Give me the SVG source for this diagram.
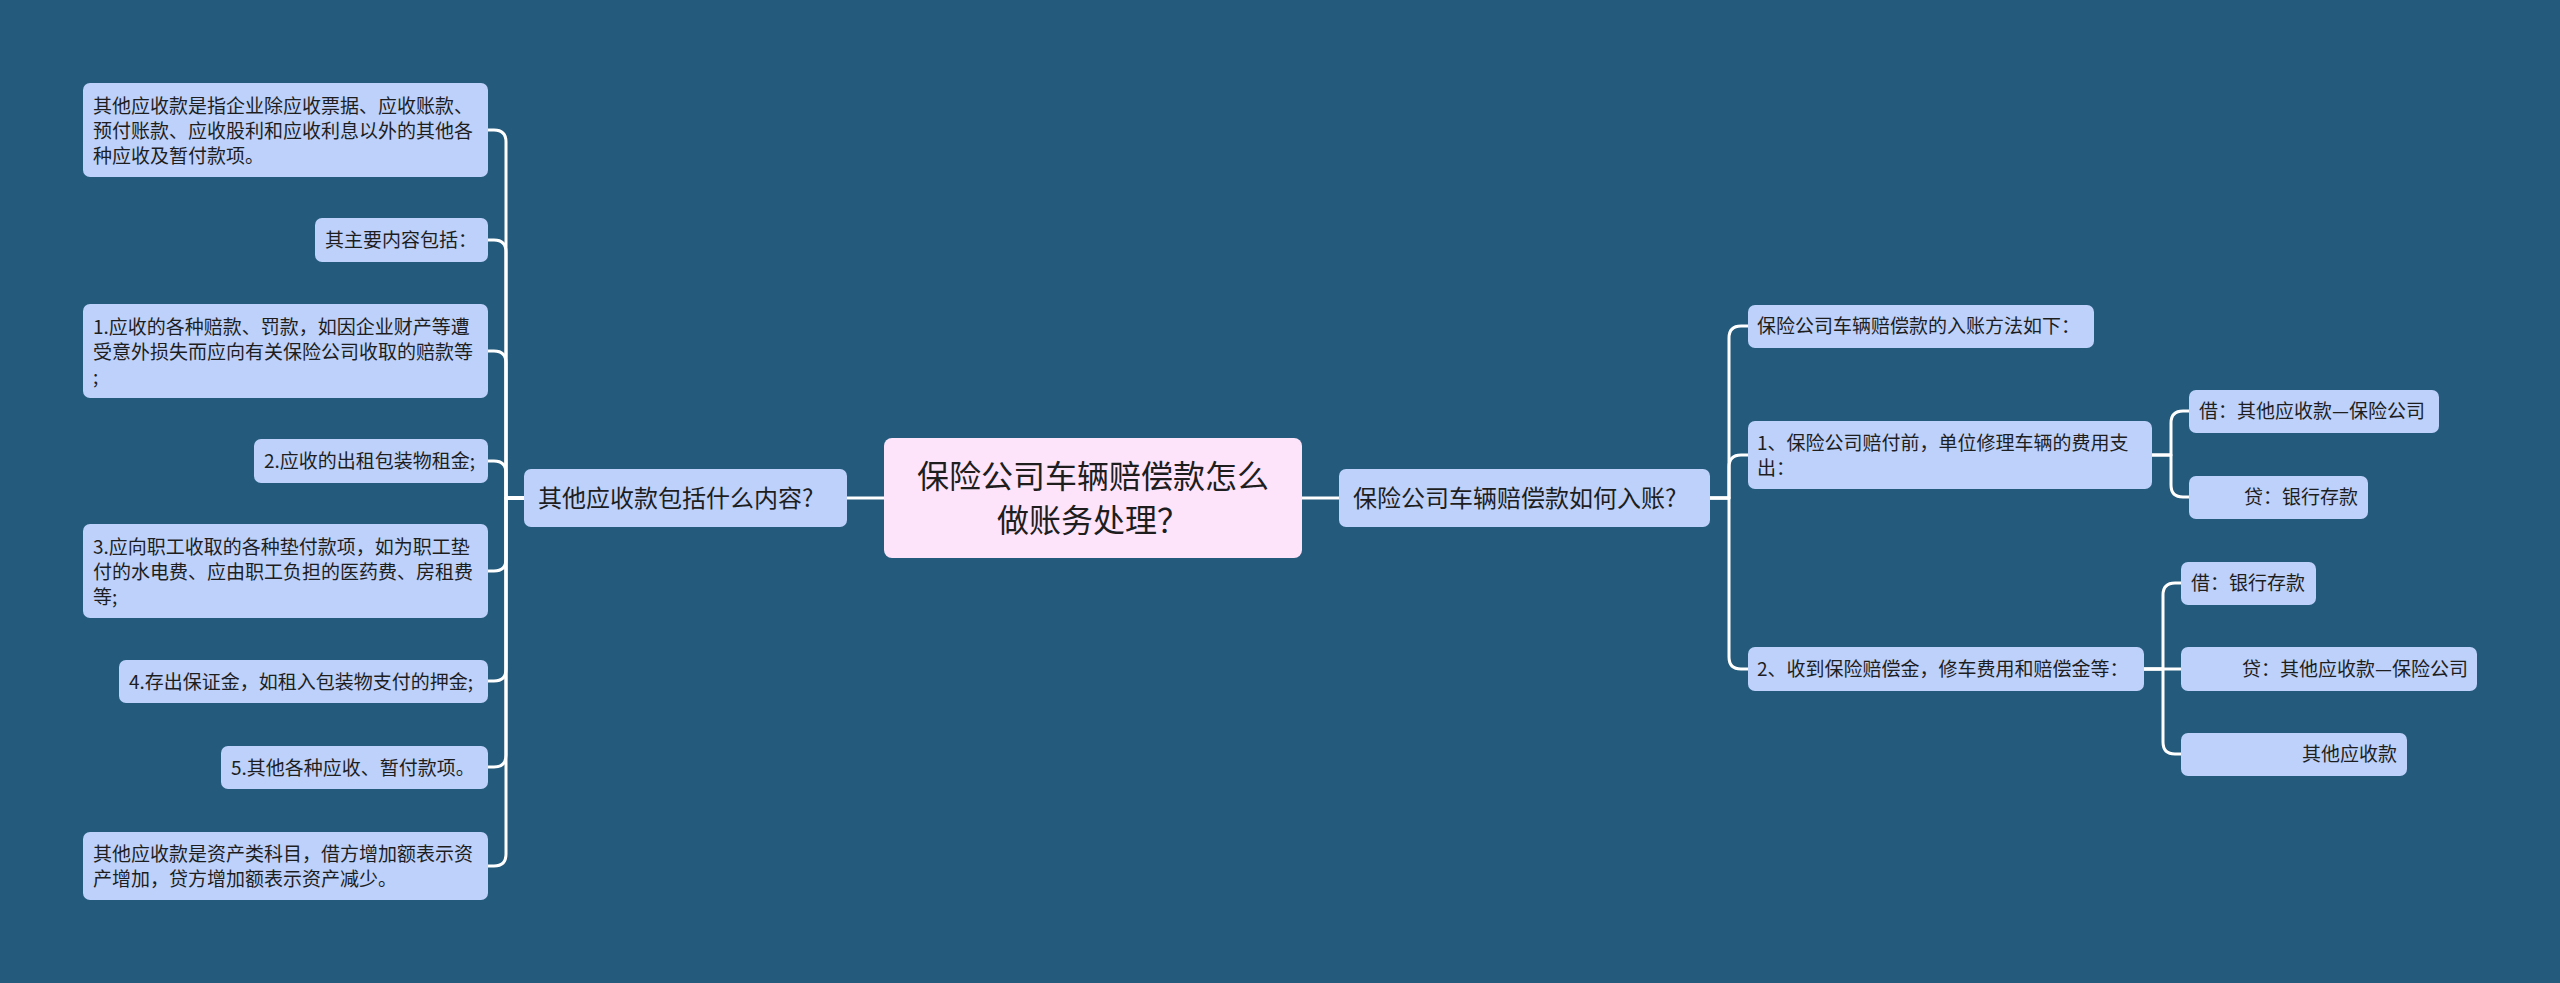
<svg xmlns="http://www.w3.org/2000/svg" width="2560" height="983" viewBox="0 0 2560 983">
<style>
.bg{fill:#245a7c}
.n{fill:#bdd1fb}
.c{fill:#fde4fa}
.t{font-family:"Noto Sans CJK SC","Noto Sans",sans-serif;font-size:19px;fill:#1e1e1e}
.m{font-size:24px}
.big{font-size:32px}
.e{text-anchor:end}
.k{fill:none;stroke:#ffffff;stroke-width:3;stroke-linecap:round;stroke-linejoin:round}
</style>
<rect class="bg" x="0" y="0" width="2560" height="983"/>
<g id="connectors" class="k">
<path d="M847 498H884"/>
<path d="M1302 498H1339"/>
<path d="M524 498H506V142Q506 130 494 130H488"/>
<path d="M524 498H506V252Q506 240 494 240H488"/>
<path d="M524 498H506V363Q506 351 494 351H488"/>
<path d="M524 498H506V473Q506 461 494 461H488"/>
<path d="M524 498H506V559Q506 571 494 571H488"/>
<path d="M524 498H506V669Q506 681 494 681H488"/>
<path d="M524 498H506V755Q506 767 494 767H488"/>
<path d="M524 498H506V854Q506 866 494 866H488"/>
<path d="M1710 498H1729V338Q1729 326 1741 326H1748"/>
<path d="M1710 498H1729V467Q1729 455 1741 455H1748"/>
<path d="M1710 498H1729V657Q1729 669 1741 669H1748"/>
<path d="M2152 455H2171V423Q2171 411 2183 411H2189"/>
<path d="M2152 455H2171V485Q2171 497 2183 497H2189"/>
<path d="M2144 669H2163V595Q2163 583 2175 583H2181"/>
<path d="M2144 669H2181"/>
<path d="M2144 669H2163V742Q2163 754 2175 754H2181"/>
</g>
<g id="center">
<rect class="c" x="884" y="438" width="418" height="120" rx="8"/>
<text class="t big" x="1093" y="488" text-anchor="middle">保险公司车辆赔偿款怎么</text>
<text class="t big" x="1093" y="532" text-anchor="middle">做账务处理？</text>
</g>
<g id="left-main">
<rect class="n" x="524" y="469" width="323" height="58" rx="7"/>
<text class="t m" x="538" y="507">其他应收款包括什么内容?</text>
</g>
<g id="right-main">
<rect class="n" x="1339" y="469" width="371" height="58" rx="7"/>
<text class="t m" x="1353" y="507">保险公司车辆赔偿款如何入账?</text>
</g>
<g id="a1">
<rect class="n" x="83" y="83" width="405" height="94" rx="7"/>
<text class="t" x="93" y="113">其他应收款是指企业除应收票据、应收账款、</text>
<text class="t" x="93" y="138">预付账款、应收股利和应收利息以外的其他各</text>
<text class="t" x="93" y="163">种应收及暂付款项。</text>
</g>
<g id="a2">
<rect class="n" x="315" y="218" width="173" height="44" rx="7"/>
<text class="t" x="325" y="247">其主要内容包括：</text>
</g>
<g id="a3">
<rect class="n" x="83" y="304" width="405" height="94" rx="7"/>
<text class="t" x="93" y="334">1.应收的各种赔款、罚款，如因企业财产等遭</text>
<text class="t" x="93" y="359">受意外损失而应向有关保险公司收取的赔款等</text>
<text class="t" x="93" y="384">;</text>
</g>
<g id="a4">
<rect class="n" x="254" y="439" width="234" height="44" rx="7"/>
<text class="t" x="264" y="468">2.应收的出租包装物租金;</text>
</g>
<g id="a5">
<rect class="n" x="83" y="524" width="405" height="94" rx="7"/>
<text class="t" x="93" y="554">3.应向职工收取的各种垫付款项，如为职工垫</text>
<text class="t" x="93" y="579">付的水电费、应由职工负担的医药费、房租费</text>
<text class="t" x="93" y="604">等;</text>
</g>
<g id="a6">
<rect class="n" x="119" y="660" width="369" height="43" rx="7"/>
<text class="t" x="129" y="689">4.存出保证金，如租入包装物支付的押金;</text>
</g>
<g id="a7">
<rect class="n" x="221" y="746" width="267" height="43" rx="7"/>
<text class="t" x="231" y="775">5.其他各种应收、暂付款项。</text>
</g>
<g id="a8">
<rect class="n" x="83" y="832" width="405" height="68" rx="7"/>
<text class="t" x="93" y="861">其他应收款是资产类科目，借方增加额表示资</text>
<text class="t" x="93" y="886">产增加，贷方增加额表示资产减少。</text>
</g>
<g id="b1">
<rect class="n" x="1748" y="305" width="346" height="43" rx="7"/>
<text class="t" x="1757" y="333">保险公司车辆赔偿款的入账方法如下：</text>
</g>
<g id="b2">
<rect class="n" x="1748" y="421" width="404" height="68" rx="7"/>
<text class="t" x="1757" y="450">1、保险公司赔付前，单位修理车辆的费用支</text>
<text class="t" x="1757" y="475">出：</text>
</g>
<g id="b3">
<rect class="n" x="1748" y="647" width="396" height="44" rx="7"/>
<text class="t" x="1757" y="676">2、收到保险赔偿金，修车费用和赔偿金等：</text>
</g>
<g id="c1">
<rect class="n" x="2189" y="390" width="250" height="43" rx="7"/>
<text class="t" x="2199" y="418">借：其他应收款—保险公司</text>
</g>
<g id="c2">
<rect class="n" x="2189" y="476" width="179" height="43" rx="7"/>
<text class="t e" x="2358" y="504">贷：银行存款</text>
</g>
<g id="d1">
<rect class="n" x="2181" y="562" width="135" height="43" rx="7"/>
<text class="t" x="2191" y="590">借：银行存款</text>
</g>
<g id="d2">
<rect class="n" x="2181" y="647" width="296" height="44" rx="7"/>
<text class="t e" x="2468" y="676">贷：其他应收款—保险公司</text>
</g>
<g id="d3">
<rect class="n" x="2181" y="733" width="226" height="43" rx="7"/>
<text class="t e" x="2397" y="761">其他应收款</text>
</g>
</svg>
